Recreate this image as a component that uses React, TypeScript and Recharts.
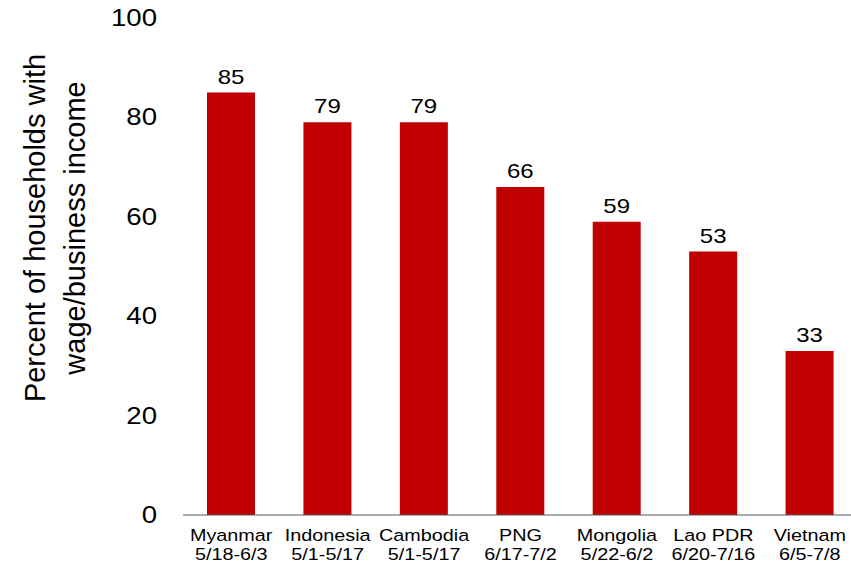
import { BarChart, Bar, XAxis, YAxis, LabelList } from "recharts";

const countries = ["Myanmar", "Indonesia", "Cambodia", "PNG", "Mongolia", "Lao PDR", "Vietnam"];
const periods = ["5/18-6/3", "5/1-5/17", "5/1-5/17", "6/17-7/2", "5/22-6/2", "6/20-7/16", "6/5-7/8"];
const shares = [85, 79, 79, 66, 59, 53, 33];
const yTicks = [0, 20, 40, 60, 80, 100];
const titleLines = ["Percent of households with", "wage/business income"];

const data = countries.map((name, i) => ({ name, period: periods[i], value: shares[i] }));

const FONT = "'Liberation Sans', Arial, sans-serif";
// the source picture is stretched sideways a bit, so text gets a 1.2 x-scale
const SX = 1.2;

const CategoryTick = ({ x, y, payload, index }: any) => (
  <g transform={`translate(${x},${y}) scale(${SX},1)`}>
    <text x={0} y={26.5} textAnchor="middle" fontSize={16.5} fill="#000" fontFamily={FONT}>
      {payload.value}
    </text>
    <text x={0} y={45} textAnchor="middle" fontSize={16.5} fill="#000" fontFamily={FONT}>
      {periods[index]}
    </text>
  </g>
);

const ValueTick = ({ x, y, payload }: any) => (
  <g transform={`translate(${x},${y}) scale(${SX},1)`}>
    <text x={0} y={0} dy={8} textAnchor="end" fontSize={23} fill="#000" fontFamily={FONT}>
      {payload.value}
    </text>
  </g>
);

const BarValue = ({ x, y, width, value }: any) => (
  <g transform={`translate(${x + width / 2},${y - 9}) scale(${SX},1)`}>
    <text x={0} y={0} textAnchor="middle" fontSize={20} fill="#000" fontFamily={FONT}>
      {value}
    </text>
  </g>
);

const AxisTitle = () => (
  <g fontFamily={FONT} fontSize={29} fill="#000">
    <text x={45} y={228} textAnchor="middle" transform="rotate(-90, 45, 228)">
      {titleLines[0]}
    </text>
    <text x={85} y={228} textAnchor="middle" transform="rotate(-90, 85, 228)">
      {titleLines[1]}
    </text>
  </g>
);

export default function App() {
  return (
    <div
      style={{
        position: "absolute",
        left: 0,
        top: 0,
        width: 851,
        height: 563,
        overflow: "hidden",
        background: "#fff",
      }}
    >
      <BarChart
        width={870}
        height={563}
        data={data}
        margin={{ top: 18, right: 12, bottom: 0, left: 0 }}
      >
        <XAxis
          dataKey="name"
          height={48}
          axisLine={{ stroke: "#595959", strokeWidth: 1 }}
          tickLine={false}
          tickSize={0}
          tickMargin={0}
          interval={0}
          tick={<CategoryTick />}
        />
        <YAxis
          width={183}
          domain={[0, 100]}
          ticks={yTicks}
          axisLine={false}
          tickLine={false}
          tickSize={0}
          tickMargin={26}
          tick={<ValueTick />}
          label={<AxisTitle />}
        />
        <Bar dataKey="value" fill="#C00000" barSize={48} isAnimationActive={false}>
          <LabelList dataKey="value" content={<BarValue />} />
        </Bar>
      </BarChart>
    </div>
  );
}
